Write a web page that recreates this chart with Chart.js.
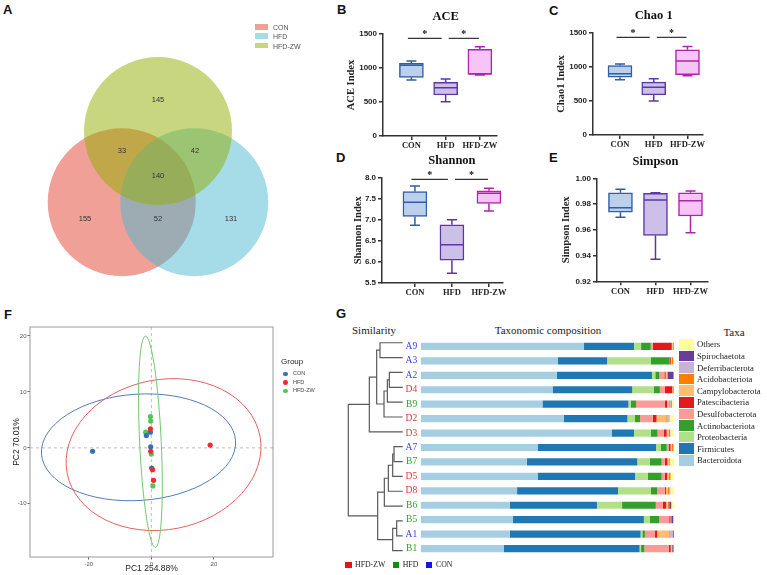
<!DOCTYPE html>
<html>
<head>
<meta charset="utf-8">
<script src="https://cdn.jsdelivr.net/npm/chart.js@4.4.1/dist/chart.umd.min.js"></script>
<style>
  body { margin: 0; background: #fff; }
  #page { position: relative; width: 767px; height: 575px; overflow: hidden; font-family: "Liberation Sans", Arial, sans-serif; }
  .box { position: absolute; }
  .t { position: absolute; white-space: nowrap; transform: translate(-50%, -50%); line-height: 1; }
  .lt { position: absolute; white-space: nowrap; line-height: 1; }
  .pl { position: absolute; font: bold 13px "Liberation Sans", Arial, sans-serif; color: #111; }
  .serif { font-family: "Liberation Serif", "Times New Roman", serif; }
</style>
</head>
<body>
<div id="page">
  <div class="pl" style="left:3px;top:2px">A</div>
  <div class="pl" style="left:337px;top:2px">B</div>
  <div class="pl" style="left:549px;top:3px">C</div>
  <div class="pl" style="left:336px;top:150px">D</div>
  <div class="pl" style="left:549px;top:150px">E</div>
  <div class="pl" style="left:4px;top:307px">F</div>
  <div class="pl" style="left:336px;top:306px">G</div>

  <div class="box" style="left:0;top:0;width:330px;height:290px"><canvas id="venn"></canvas></div>

  <div class="box" style="left:330px;top:0;width:180px;height:150px"><canvas id="ace"></canvas></div>
  <div class="box" style="left:535px;top:0;width:180px;height:150px"><canvas id="chao"></canvas></div>
  <div class="box" style="left:330px;top:150px;width:180px;height:150px"><canvas id="shannon"></canvas></div>
  <div class="box" style="left:535px;top:150px;width:180px;height:150px"><canvas id="simpson"></canvas></div>

  <div class="box" style="left:0;top:300px;width:330px;height:275px"><canvas id="pca"></canvas></div>

  <div class="t serif" style="left:374px;top:330px;font-size:11px;color:#222">Similarity</div>
  <div class="t serif" style="left:548px;top:330px;font-size:11px;color:#222">Taxonomic composition</div>
  <div class="t serif" style="left:734px;top:332px;font-size:11px;color:#222">Taxa</div>
  <div class="box" style="left:340px;top:330px;width:70px;height:235px"><canvas id="dendro"></canvas></div>
  <div class="box" style="left:395px;top:330px;width:280px;height:235px"><canvas id="taxa"></canvas></div>
</div>

<script>
// ---------- data ----------
const groups = ['CON', 'HFD', 'HFD-ZW'];

// A: shared / unique OTU counts
const vennRegions = ['CON only', 'HFD only', 'HFD-ZW only', 'CON & HFD', 'CON & HFD-ZW', 'HFD & HFD-ZW', 'all three'];
const vennCounts = [155, 131, 145, 52, 33, 42, 140];

// B-E: box plot summaries (min, q1, median, q3, max) per group
const aceMin = [824, 505, 897];
const aceQ1 = [863, 603, 907];
const aceMed = [1040, 711, 915];
const aceQ3 = [1069, 789, 1275];
const aceMax = [1103, 838, 1313];
const aceTicks = [0, 500, 1000, 1500];

const chaoMin = [811, 501, 870];
const chaoQ1 = [851, 590, 889];
const chaoMed = [900, 703, 1087];
const chaoQ3 = [1022, 777, 1254];
const chaoMax = [1043, 826, 1302];
const chaoTicks = [0, 500, 1000, 1500];

const shannonMin = [6.87, 5.73, 7.21];
const shannonQ1 = [7.08, 6.04, 7.39];
const shannonMed = [7.42, 6.41, 7.63];
const shannonQ3 = [7.67, 6.88, 7.69];
const shannonMax = [7.80, 7.00, 7.75];
const shannonTicks = [5.5, 6.0, 6.5, 7.0, 7.5, 8.0];

const simpsonMin = [0.9697, 0.9371, 0.9578];
const simpsonQ1 = [0.9736, 0.9557, 0.9707];
const simpsonMed = [0.9772, 0.9831, 0.9826];
const simpsonQ3 = [0.9888, 0.9883, 0.9888];
const simpsonMax = [0.9915, 0.9888, 0.9901];
const simpsonTicks = [0.92, 0.94, 0.96, 0.98, 1.00];

// significance bars: [from group, to group]
const sigPairs = [[1, 2], [2, 3]];

// F: PCA scores
const conPC1 = [-18.8, -1.6, -0.3, -0.2, 0.1];
const conPC2 = [-0.6, 2.2, 2.8, 0.2, -3.6];
const hfdPC1 = [-0.3, 18.8, -0.2, 0.4, 0.7];
const hfdPC2 = [3.4, 0.5, -0.6, -3.9, -5.8];
const zwPC1 = [-0.3, -0.2, -1.8, 0.0, 0.5];
const zwPC2 = [5.6, 4.8, 2.8, -1.1, -6.8];
const pcaXTicks = [-20, 0, 20];
const pcaYTicks = [-10, 0, 10, 20];
// confidence ellipses: centre, semi-axes (data units), tilt (deg)
const ellCx = [-4.1, 3.9, -0.3];
const ellCy = [0.1, -1.2, 1.1];
const ellRx = [31.1, 31.4, 3.45];
const ellRy = [9.5, 13.4, 18.9];
const ellRot = [-3.9, -11, -2.7];

// G: samples in dendrogram order and relative abundance (%)
const samples = ['A9', 'A3', 'A2', 'D4', 'B9', 'D2', 'D3', 'A7', 'B7', 'D5', 'D8', 'B6', 'B5', 'A1', 'B1'];
const bacteroidota = [64.4, 54.0, 53.7, 52.0, 48.0, 56.4, 75.3, 46.1, 41.9, 46.1, 38.0, 35.2, 36.3, 35.1, 32.7];
const firmicutes = [19.7, 19.5, 37.5, 31.4, 33.9, 25.1, 8.8, 46.7, 43.5, 38.4, 39.8, 34.3, 51.7, 51.6, 53.6];
const proteobacteria = [2.8, 17.2, 1.3, 8.6, 0.9, 3.0, 6.6, 1.8, 5.0, 5.0, 13.0, 9.9, 2.4, 0.7, 0.6];
const actinobacteriota = [3.8, 7.4, 1.6, 2.3, 2.1, 2.0, 2.7, 2.4, 4.6, 5.5, 2.5, 13.3, 3.7, 1.0, 1.3];
const desulfobacterota = [0.8, 0, 2.0, 2.0, 11.4, 5.0, 2.5, 0.8, 1.3, 1.3, 3.0, 2.8, 3.9, 4.0, 9.6];
const patescibacteria = [7.5, 0.5, 0.5, 2.9, 0.9, 1.5, 1.1, 0.7, 1.0, 0.9, 0.4, 1.3, 0.5, 0.9, 0.8];
const campylobacterota = [0.4, 0.4, 0.4, 0.3, 0.5, 3.5, 0.7, 0.5, 0.5, 0.7, 0.8, 0.7, 0, 4.7, 0.3];
const acidobacteriota = [0.4, 0.6, 0.4, 0.3, 0.5, 0.5, 0.6, 0.7, 0.4, 0.6, 0.5, 0.5, 0, 0.3, 0.3];
const deferribacterota = [0, 0, 0, 0, 0.4, 0.8, 0.2, 0, 0, 0, 0.5, 0, 0.3, 1.2, 0];
const spirochaetota = [0, 0, 2.3, 0, 0.3, 0.2, 0, 0, 0, 0, 0, 0.8, 0.8, 0.3, 0.5];
const others = [0.2, 0.4, 0.3, 0.2, 1.1, 2.0, 1.5, 0.3, 1.8, 1.5, 1.5, 1.2, 0.4, 0.2, 0.3];
const taxaNames = ['Bacteroidota', 'Firmicutes', 'Proteobacteria', 'Actinobacteriota', 'Desulfobacterota',
  'Patescibacteria', 'Campylobacterota', 'Acidobacteriota', 'Deferribacterota', 'Spirochaetota', 'Others'];
const taxaValues = [bacteroidota, firmicutes, proteobacteria, actinobacteriota, desulfobacterota,
  patescibacteria, campylobacterota, acidobacteriota, deferribacterota, spirochaetota, others];

// hierarchical clustering merges (child a, child b, height); numbers refer to earlier merges
const mergeA = ['A9', 'A2', 1, 2, 0, 4, 'A7', 6, 7, 8, 'B5', 10, 9, 5];
const mergeB = ['A3', 'D4', 'B9', 'D2', 3, 'D3', 'B7', 'D5', 'D8', 'B6', 'A1', 'B1', 11, 12];
const mergeH = [68, 40, 46, 56, 78, 100, 26, 30, 43, 55, 18, 30, 75, 163];

// ---------- styles ----------
const SERIF = 'Liberation Serif';
const SANS = 'Liberation Sans';
const vennColors = ['rgba(225,65,45,0.5)', 'rgba(75,185,209,0.5)', 'rgba(145,175,0,0.5)'];
const boxFill = ['rgb(188,208,236)', 'rgb(204,192,232)', 'rgb(246,196,246)'];
const boxLine = ['rgb(45,95,165)', 'rgb(95,55,165)', 'rgb(172,38,172)'];
const pcaColors = ['rgb(55,110,180)', 'rgb(235,45,45)', 'rgb(85,195,85)'];
const ellColors = ['rgb(80,125,190)', 'rgb(232,95,95)', 'rgb(110,200,110)'];
const taxaColors = ['#a6cee3', '#1f78b4', '#b2df8a', '#33a02c', '#fb9a99', '#e31a1c', '#fdbf6f',
  '#ff7f00', '#cab2d6', '#6a3d9a', '#ffff99'];
const sampleColor = { A: 'rgb(60,60,235)', B: 'rgb(40,165,40)', D: 'rgb(240,50,50)' };

Chart.defaults.font.family = SANS;
Chart.defaults.animation = false;
Chart.defaults.responsive = true;
Chart.defaults.maintainAspectRatio = false;
Chart.defaults.layout.autoPadding = false;
Chart.defaults.plugins.legend.display = false;
Chart.defaults.plugins.tooltip.enabled = false;

const page = document.getElementById('page');
function addText(html, x, y, css, cls) {
  const d = document.createElement('div');
  d.className = cls || 't';
  d.style.left = x + 'px';
  d.style.top = y + 'px';
  d.style.cssText += css;
  d.innerHTML = html;
  page.appendChild(d);
  return d;
}
function addRect(x, y, w, h, color, round) {
  const d = document.createElement('div');
  d.style.cssText = 'position:absolute;left:' + x + 'px;top:' + y + 'px;width:' + w + 'px;height:' + h +
    'px;background:' + color + (round ? ';border-radius:50%' : '');
  page.appendChild(d);
}

// ---------- A: Venn ----------
// layout in units of one circle radius
const vennCenters = [[-0.49, -0.30], [0.49, -0.30], [0, 0.662]];
const vennLabelPos = [[-0.986, -0.527], [0.986, -0.527], [0, 1.08], [0, -0.527], [-0.486, 0.39], [0.5, 0.39], [0, 0.054]];

new Chart('venn', {
  type: 'bubble',
  data: {
    datasets: groups.map((g, i) => ({
      label: g,
      data: [{ x: vennCenters[i][0], y: vennCenters[i][1], r: 74 }],
      backgroundColor: vennColors[i],
      borderWidth: 0,
      order: 3 - i,
      clip: false
    }))
  },
  options: {
    layout: { padding: 0, autoPadding: false },
    scales: {
      x: { display: false, min: -2.135, max: 2.324 },
      y: { display: false, min: -1.486, max: 2.432 }
    }
  },
  plugins: [{
    id: 'vennCounts',
    afterDatasetsDraw(chart) {
      const { ctx, scales: { x, y } } = chart;
      ctx.save();
      ctx.fillStyle = '#333';
      ctx.font = '7.5px ' + SANS;
      ctx.textAlign = 'center';
      ctx.textBaseline = 'middle';
      vennCounts.forEach((c, i) => {
        ctx.fillText(String(c), x.getPixelForValue(vennLabelPos[i][0]), y.getPixelForValue(vennLabelPos[i][1]));
      });
      ctx.restore();
    }
  }]
});
groups.forEach((g, i) => {
  addRect(255, 24 + i * 9.4, 13, 5.5, vennColors[i]);
  addText(g, 273, 26.8 + i * 9.4, 'font-size:7px;color:#555;transform:translateY(-50%)', 'lt');
});

// ---------- B-E: box plots ----------
function boxPlot(id, p) {
  const extras = {
    id: 'boxExtras',
    afterDatasetsDraw(chart) {
      const { ctx, chartArea, scales: { x, y } } = chart;
      ctx.save();
      ctx.lineWidth = 1.5;
      groups.forEach((g, i) => {
        const px = x.getPixelForValue(i + 1);
        const yMax = y.getPixelForValue(p.max[i]);
        const yMin = y.getPixelForValue(p.min[i]);
        const yQ1 = y.getPixelForValue(p.q1[i]);
        const yQ3 = y.getPixelForValue(p.q3[i]);
        const yMed = y.getPixelForValue(p.med[i]);
        ctx.strokeStyle = boxLine[i];
        ctx.beginPath();
        ctx.moveTo(px, yMax); ctx.lineTo(px, yQ3);
        ctx.moveTo(px, yQ1); ctx.lineTo(px, yMin);
        ctx.moveTo(px - 5, yMax); ctx.lineTo(px + 5, yMax);
        ctx.moveTo(px - 5, yMin); ctx.lineTo(px + 5, yMin);
        ctx.moveTo(px - 11.5, yMed); ctx.lineTo(px + 11.5, yMed);
        ctx.stroke();
      });
      if (p.sig !== null) {
        const ly = y.getPixelForValue(p.sig);
        ctx.strokeStyle = '#333';
        ctx.fillStyle = '#111';
        ctx.lineWidth = 1.2;
        ctx.font = 'bold 10px ' + SERIF;
        ctx.textAlign = 'center';
        ctx.textBaseline = 'middle';
        sigPairs.forEach(([a, b]) => {
          const x1 = x.getPixelForValue(a) + (a === 1 ? -3.5 : 3);
          const x2 = x.getPixelForValue(b) + (b === 2 ? -4 : -1);
          ctx.beginPath(); ctx.moveTo(x1, ly); ctx.lineTo(x2, ly); ctx.stroke();
          ctx.fillText('*', (x1 + x2) / 2, ly - 4);
        });
      }
      ctx.fillStyle = '#111';
      ctx.font = 'bold 12.5px ' + SERIF;
      ctx.textAlign = 'center';
      ctx.textBaseline = 'middle';
      ctx.fillText(p.title, x.getPixelForValue(2), chartArea.top - 17);
      ctx.restore();
    }
  };
  const axisGrid = { display: true, drawOnChartArea: false, drawTicks: true, tickLength: 4, color: '#333', lineWidth: 1.5 };
  new Chart(id, {
    type: 'bar',
    data: {
      datasets: [{
        data: groups.map((g, i) => ({ x: i + 1, y: [p.q1[i], p.q3[i]] })),
        backgroundColor: boxFill,
        borderColor: boxLine,
        borderWidth: 1.5,
        borderSkipped: false,
        barThickness: 24
      }]
    },
    options: {
      layout: { padding: { top: p.padTop, right: p.padRight, left: 0, bottom: 0 } },
      scales: {
        x: {
          type: 'linear', min: p.xmin, max: p.xmax, offset: false,
          afterBuildTicks: a => { a.ticks = groups.map((g, i) => ({ value: i + 1 })); },
          afterFit: a => { a.height = p.xh; },
          ticks: { callback: v => groups[v - 1], font: { family: SERIF, weight: 'bold', size: 8.5 }, color: '#222', padding: 1, maxRotation: 0, autoSkip: false },
          grid: Object.assign({ offset: false }, axisGrid),
          border: { display: true, color: '#333', width: 1.5 }
        },
        y: {
          min: p.ticks[0], max: p.ticks[p.ticks.length - 1],
          afterBuildTicks: a => { a.ticks = p.ticks.map(v => ({ value: v })); },
          afterFit: a => { a.width = p.yw; },
          ticks: { callback: v => v.toFixed(p.dec), font: { weight: 'bold', size: 8 }, color: '#222', padding: 2 },
          title: { display: true, text: p.yTitle, font: { family: SERIF, weight: 'bold', size: 10.5 }, color: '#222', padding: { top: p.titlePad, bottom: 0 } },
          grid: axisGrid,
          border: { display: true, color: '#333', width: 1.5 }
        }
      }
    },
    plugins: [extras]
  });
}

boxPlot('ace', { title: 'ACE', yTitle: 'ACE Index', min: aceMin, q1: aceQ1, med: aceMed, q3: aceQ3, max: aceMax,
  ticks: aceTicks, dec: 0, sig: 1436, yw: 53, padTop: 34, padRight: 13, xh: 14, xmin: 0.17, xmax: 3.5, titlePad: 15 });
boxPlot('chao', { title: 'Chao 1', yTitle: 'Chao1 Index', min: chaoMin, q1: chaoQ1, med: chaoMed, q3: chaoQ3, max: chaoMax,
  ticks: chaoTicks, dec: 0, sig: 1436, yw: 58, padTop: 33, padRight: 12, xh: 15, xmin: 0.2, xmax: 3.46, titlePad: 20 });
boxPlot('shannon', { title: 'Shannon', yTitle: 'Shannon Index', min: shannonMin, q1: shannonQ1, med: shannonMed, q3: shannonQ3, max: shannonMax,
  ticks: shannonTicks, dec: 1, sig: 7.96, yw: 52, padTop: 27.7, padRight: 7, xh: 17, xmin: 0.11, xmax: 3.38, titlePad: 22 });
boxPlot('simpson', { title: 'Simpson', yTitle: 'Simpson Index', min: simpsonMin, q1: simpsonQ1, med: simpsonMed, q3: simpsonQ3, max: simpsonMax,
  ticks: simpsonTicks, dec: 2, sig: null, yw: 62, padTop: 28.3, padRight: 7, xh: 18.7, xmin: 0.33, xmax: 3.5, titlePad: 25 });

// ---------- F: PCA ----------
const pcaSets = [[conPC1, conPC2], [hfdPC1, hfdPC2], [zwPC1, zwPC2]];
const pcaGrid = { display: true, drawOnChartArea: false, drawTicks: true, tickLength: 2.5, color: '#444', lineWidth: 0.8 };
new Chart('pca', {
  type: 'scatter',
  data: {
    datasets: pcaSets.map((s, i) => ({
      label: groups[i],
      data: s[0].map((v, k) => ({ x: v, y: s[1][k] })),
      backgroundColor: pcaColors[i],
      borderWidth: 0,
      pointRadius: 2.6,
      order: i === 1 ? 0 : 1
    }))
  },
  options: {
    layout: { padding: { top: 27, right: 57, left: 0, bottom: 0 } },
    scales: {
      x: {
        min: -38.8, max: 38.9,
        afterBuildTicks: a => { a.ticks = pcaXTicks.map(v => ({ value: v })); },
        afterFit: a => { a.height = 18; },
        ticks: { font: { size: 6 }, color: '#555', padding: 1, maxRotation: 0 },
        title: { display: true, text: 'PC1 254.88%', font: { size: 8.5 }, color: '#222', padding: { top: 0, bottom: 1 } },
        grid: pcaGrid, border: { display: false }
      },
      y: {
        min: -19.5, max: 21.6,
        afterBuildTicks: a => { a.ticks = pcaYTicks.map(v => ({ value: v })); },
        afterFit: a => { a.width = 30; },
        ticks: { font: { size: 6 }, color: '#555', padding: 1 },
        title: { display: true, text: 'PC2 70.01%', font: { size: 8.5 }, color: '#222', padding: { top: 11.5, bottom: 0 } },
        grid: pcaGrid, border: { display: false }
      }
    }
  },
  plugins: [{
    id: 'pcaExtras',
    beforeDatasetsDraw(chart) {
      const { ctx, chartArea: a, scales: { x, y } } = chart;
      ctx.save();
      ctx.strokeStyle = '#aaa';
      ctx.lineWidth = 0.8;
      ctx.setLineDash([3, 3]);
      const x0 = x.getPixelForValue(0), y0 = y.getPixelForValue(0);
      ctx.beginPath();
      ctx.moveTo(x0, a.top); ctx.lineTo(x0, a.bottom);
      ctx.moveTo(a.left, y0); ctx.lineTo(a.right, y0);
      ctx.stroke();
      ctx.setLineDash([]);
      ctx.lineWidth = 1;
      ellCx.forEach((cx, i) => {
        const px = x.getPixelForValue(cx), py = y.getPixelForValue(ellCy[i]);
        const rx = Math.abs(x.getPixelForValue(cx + ellRx[i]) - px);
        const ry = Math.abs(y.getPixelForValue(ellCy[i] + ellRy[i]) - py);
        ctx.strokeStyle = ellColors[i];
        ctx.beginPath();
        ctx.ellipse(px, py, rx, ry, ellRot[i] * Math.PI / 180, 0, 2 * Math.PI);
        ctx.stroke();
      });
      ctx.restore();
    },
    afterDraw(chart) {
      const { ctx, chartArea: a } = chart;
      ctx.save();
      ctx.strokeStyle = '#999';
      ctx.lineWidth = 1;
      ctx.strokeRect(a.left, a.top, a.right - a.left, a.bottom - a.top);
      ctx.restore();
    }
  }]
});
addText('Group', 281, 362, 'font-size:8px;color:#222;transform:translateY(-50%)', 'lt');
groups.forEach((g, i) => {
  const yy = [374, 382.5, 391][i];
  addRect(283, yy - 2.3, 4.6, 4.6, pcaColors[i], true);
  addText(g, 293, yy, 'font-size:5.5px;color:#444;transform:translateY(-50%)', 'lt');
});

// ---------- G: dendrogram ----------
function nodePos(n) {
  if (typeof n === 'string') return { x: 0, y: samples.indexOf(n) };
  const a = nodePos(mergeA[n]), b = nodePos(mergeB[n]);
  return { x: mergeH[n], y: (a.y + b.y) / 2 };
}
new Chart('dendro', {
  type: 'scatter',
  data: {
    datasets: mergeH.map((h, k) => {
      const a = nodePos(mergeA[k]), b = nodePos(mergeB[k]);
      return {
        data: [{ x: a.x, y: a.y }, { x: h, y: a.y }, { x: h, y: b.y }, { x: b.x, y: b.y }],
        showLine: true, pointRadius: 0, borderColor: '#5a5a5a', borderWidth: 1.2, clip: false, fill: false
      };
    })
  },
  options: {
    layout: { padding: { left: 8.3, right: 7.3, top: 5.3, bottom: 6.9 } },
    scales: {
      x: { display: false, reverse: true, min: 0, max: 163 },
      y: { display: false, reverse: true, min: -0.5, max: samples.length - 0.5 }
    }
  }
});

// ---------- G: stacked composition bars ----------
new Chart('taxa', {
  type: 'bar',
  data: {
    labels: samples,
    datasets: taxaNames.map((t, i) => ({
      label: t,
      data: taxaValues[i],
      backgroundColor: taxaColors[i],
      borderWidth: 0,
      barPercentage: 0.5,
      categoryPercentage: 1
    }))
  },
  options: {
    indexAxis: 'y',
    layout: { padding: { top: 5.3, bottom: 6.9, right: 0.7, left: 0 } },
    scales: {
      x: { display: false, stacked: true, min: 0, max: 100 },
      y: {
        stacked: true,
        afterFit: a => { a.width = 25.7; },
        grid: { display: false, drawTicks: false },
        border: { display: false },
        ticks: {
          font: { family: SERIF, size: 9.5 },
          color: c => sampleColor[samples[c.index][0]],
          padding: 3.5
        }
      }
    }
  }
});

// taxa legend (top = last stacked segment)
taxaNames.slice().reverse().forEach((t, k) => {
  const i = taxaNames.length - 1 - k;
  const top = 339 + k * 11.6;
  addRect(679, top, 15, 10.6, taxaColors[i]);
  addText(t, 697, top + 5.3, 'font-size:8.7px;color:#222;transform:translateY(-50%)', 'lt serif');
});

// group legend under the bars
const groupKeys = [['HFD-ZW', 'rgb(230,20,20)', 345, 355], ['HFD', 'rgb(20,140,20)', 392.7, 402.7], ['CON', 'rgb(20,20,235)', 425.7, 436]];
groupKeys.forEach(([name, col, sx, tx]) => {
  addRect(sx, 561.5, 6.5, 6, col);
  addText(name, tx, 564.5, 'font-size:7.8px;color:#222;transform:translateY(-50%)', 'lt serif');
});
</script>
</body>
</html>
